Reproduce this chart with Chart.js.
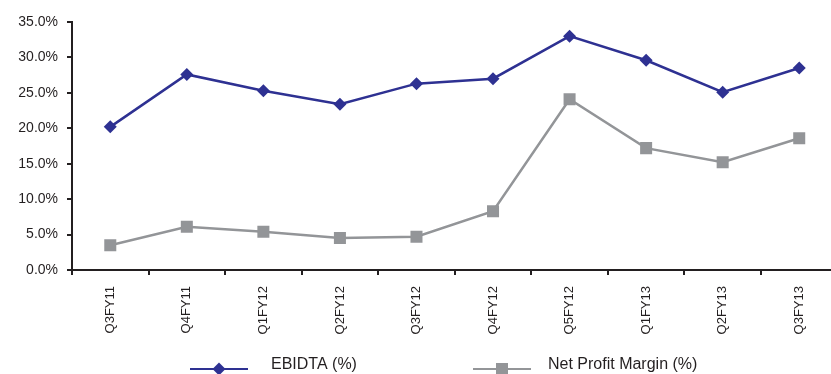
<!DOCTYPE html>
<html>
<head>
<meta charset="utf-8">
<script src="https://cdn.jsdelivr.net/npm/chart.js@4/dist/chart.umd.min.js"></script>
<style>
  html, body { margin: 0; padding: 0; background: #fff; overflow: hidden; }
  /* the original plot runs past the right edge, so the canvas is a bit wider than the window */
  #wrap { width: 831px; height: 374px; overflow: hidden; }
</style>
</head>
<body>
<div id="wrap"><canvas id="myChart" width="846" height="374"></canvas></div>
<script>
// quarters on the x axis
const quarters = ["Q3FY11", "Q4FY11", "Q1FY12", "Q2FY12", "Q3FY12", "Q4FY12", "Q5FY12", "Q1FY13", "Q2FY13", "Q3FY13"];
// values in %
const ebidta = [20.2, 27.6, 25.3, 23.4, 26.3, 27.0, 33.0, 29.6, 25.1, 28.5];
const netProfitMargin = [3.5, 6.1, 5.4, 4.5, 4.7, 8.3, 24.1, 17.2, 15.2, 18.6];
const seriesNames = ["EBIDTA (%)", "Net Profit Margin (%)"];

const blue = "#2E3192";
const grey = "#939598";
const textColor = "#231F20";
const fontFamily = "'Liberation Sans', Arial, sans-serif";

// legend at the bottom, drawn by hand so it sits where the original does
const bottomLegend = {
  id: "bottomLegend",
  afterDraw(chart) {
    const ctx = chart.ctx;
    const items = [
      { label: seriesNames[0], color: blue, style: "rectRot", radius: 6.5, x0: 190, x1: 248, tx: 271 },
      { label: seriesNames[1], color: grey, style: "rect", radius: 8.5, x0: 473, x1: 531, tx: 548 },
    ];
    const y = 369;
    ctx.save();
    items.forEach((it) => {
      ctx.strokeStyle = it.color;
      ctx.lineWidth = 2;
      ctx.beginPath();
      ctx.moveTo(it.x0, y);
      ctx.lineTo(it.x1, y);
      ctx.stroke();
      ctx.fillStyle = it.color;
      Chart.helpers.drawPoint(ctx, { pointStyle: it.style, radius: it.radius, rotation: 0, borderWidth: 0 }, (it.x0 + it.x1) / 2, y);
      ctx.fillStyle = textColor;
      ctx.font = "16px " + fontFamily;
      ctx.textBaseline = "middle";
      ctx.textAlign = "left";
      ctx.fillText(it.label, it.tx, 365);
    });
    ctx.restore();
  },
};

new Chart(document.getElementById("myChart"), {
  type: "line",
  data: {
    labels: quarters,
    datasets: [
      {
        label: seriesNames[0],
        data: ebidta,
        borderColor: blue,
        backgroundColor: blue,
        borderWidth: 2.5,
        pointStyle: "rectRot",
        pointRadius: 6.5,
        pointBorderWidth: 0,
        tension: 0,
        fill: false,
      },
      {
        label: seriesNames[1],
        data: netProfitMargin,
        borderColor: grey,
        backgroundColor: grey,
        borderWidth: 2.5,
        pointStyle: "rect",
        pointRadius: 8.5,
        pointBorderWidth: 0,
        tension: 0,
        fill: false,
      },
    ],
  },
  plugins: [bottomLegend],
  options: {
    responsive: false,
    animation: false,
    layout: { padding: { top: 22, right: 0, left: 0, bottom: 0 } },
    plugins: {
      legend: { display: false },
      tooltip: { enabled: false },
    },
    scales: {
      x: {
        offset: true,
        afterFit: (scale) => { scale.height = 104; },
        grid: {
          offset: true,
          drawOnChartArea: false,
          drawTicks: true,
          tickLength: 5,
          color: "#231F20",
          lineWidth: 2,
        },
        border: { display: true, color: "#231F20", width: 2 },
        ticks: {
          minRotation: 90,
          maxRotation: 90,
          padding: 11,
          color: textColor,
          font: { family: fontFamily, size: 13 },
        },
      },
      y: {
        min: 0,
        max: 35,
        afterFit: (scale) => { scale.width = 72; },
        grid: {
          drawOnChartArea: false,
          drawTicks: true,
          tickLength: 5,
          color: "#231F20",
          lineWidth: 2,
        },
        border: { display: true, color: "#231F20", width: 2 },
        ticks: {
          stepSize: 5,
          padding: 9,
          color: textColor,
          font: { family: fontFamily, size: 14 },
          callback: (v) => v.toFixed(1) + "%",
        },
      },
    },
  },
});
</script>
</body>
</html>
